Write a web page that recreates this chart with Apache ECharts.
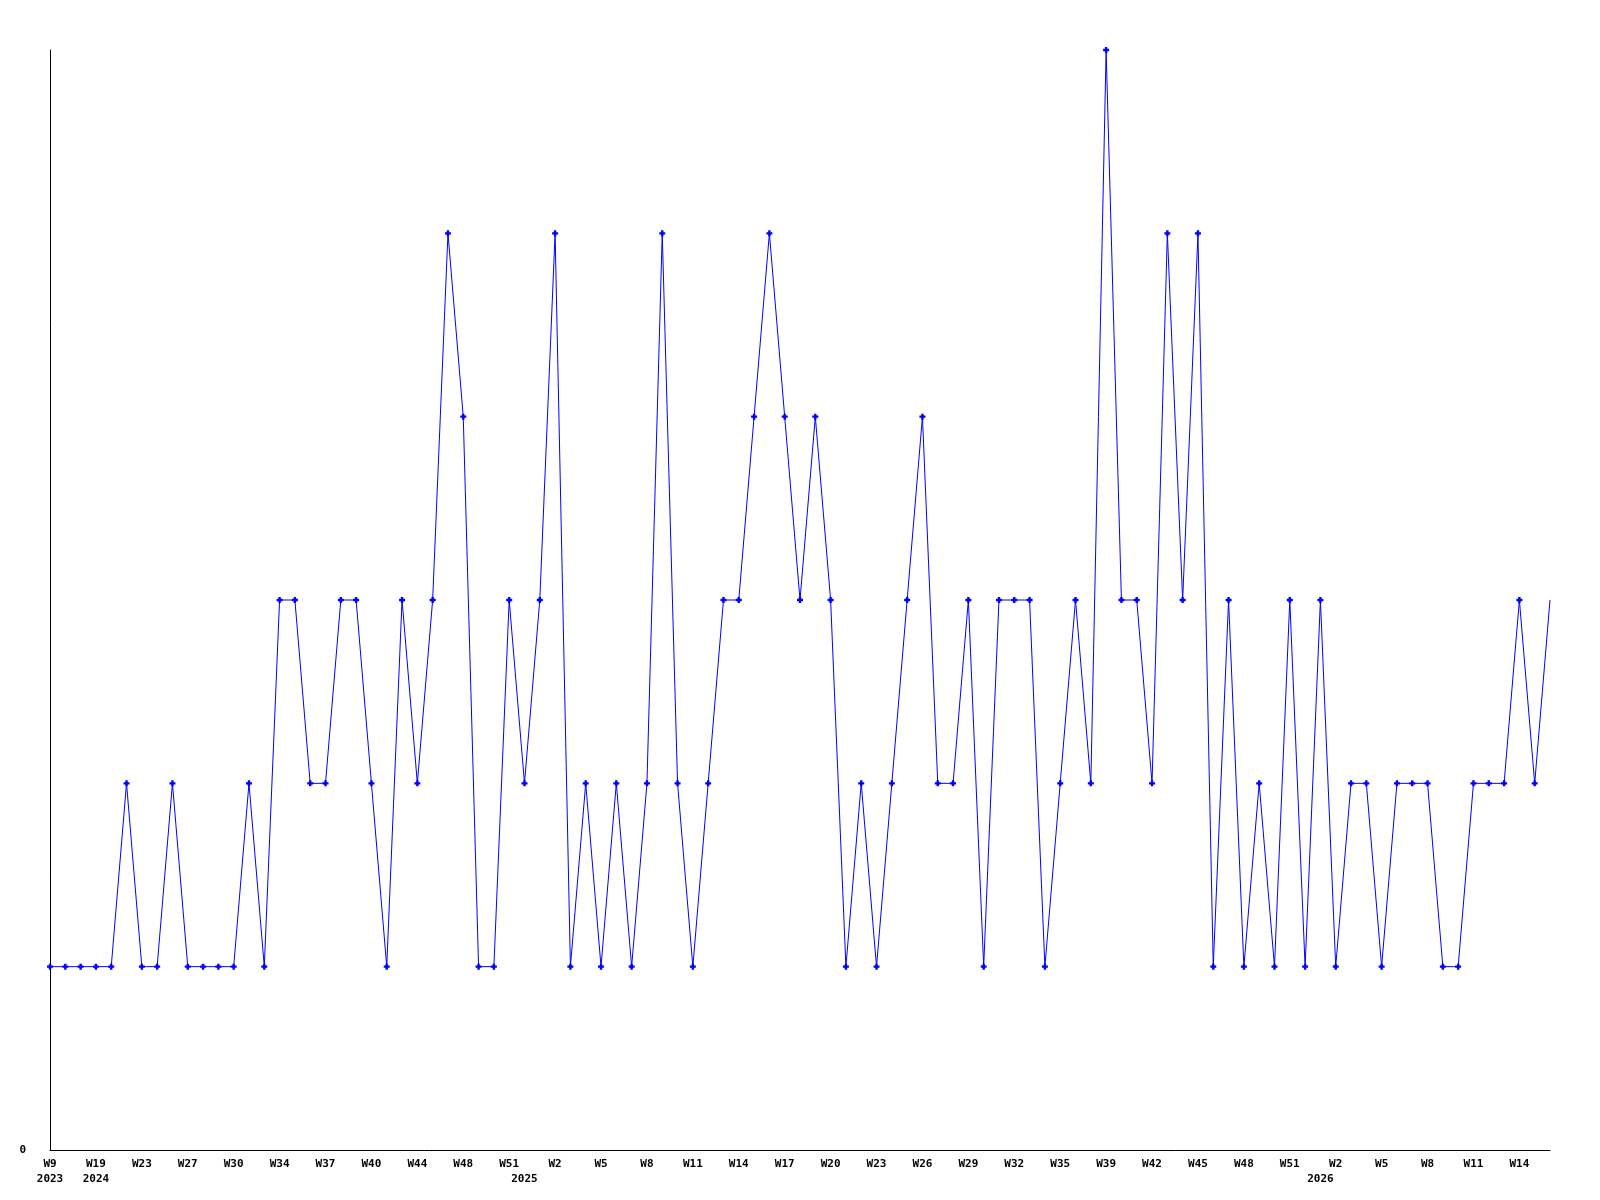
<!DOCTYPE html>
<html>
<head>
<meta charset="utf-8">
<script src="https://cdn.jsdelivr.net/npm/echarts@6/dist/echarts.min.js"></script>
<style>
  html, body { margin: 0; padding: 0; background: #fff; }
  #main { width: 1600px; height: 1200px; }
</style>
</head>
<body>
<div id="main"></div>
<script>
// week of each point, in order
const weeks = [
  'W9', 'W11', 'W17', 'W19', 'W20', 'W22', 'W23', 'W24', 'W26', 'W27',
  'W28', 'W29', 'W30', 'W31', 'W33', 'W34', 'W35', 'W36', 'W37', 'W38',
  'W39', 'W40', 'W42', 'W43', 'W44', 'W45', 'W47', 'W48', 'W49', 'W50',
  'W51', 'W52', 'W1', 'W2', 'W3', 'W4', 'W5', 'W6', 'W7', 'W8',
  'W9', 'W10', 'W11', 'W12', 'W13', 'W14', 'W15', 'W16', 'W17', 'W18',
  'W19', 'W20', 'W21', 'W22', 'W23', 'W24', 'W25', 'W26', 'W27', 'W28',
  'W29', 'W30', 'W31', 'W32', 'W33', 'W34', 'W35', 'W37', 'W38', 'W39',
  'W40', 'W41', 'W42', 'W43', 'W44', 'W45', 'W46', 'W47', 'W48', 'W49',
  'W50', 'W51', 'W52', 'W1', 'W2', 'W3', 'W4', 'W5', 'W6', 'W7',
  'W8', 'W9', 'W10', 'W11', 'W12', 'W13', 'W14', 'W15', 'W16'
];

// year label under the point where the year starts
const yearStarts = { 0: '2023', 3: '2024', 31: '2025', 83: '2026' };

const counts = [
  1, 1, 1, 1, 1, 2, 1, 1, 2, 1, 1, 1, 1, 2, 1, 3, 3, 2, 2, 3, 3, 2, 1, 3, 2, 3, 5,
  4, 1, 1, 3, 2, 3, 5, 1, 2, 1, 2, 1, 2, 5, 2, 1, 2, 3, 3, 4, 5, 4, 3, 4, 3, 1, 2,
  1, 2, 3, 4, 2, 2, 3, 1, 3, 3, 3, 1, 2, 3, 2, 6, 3, 3, 2, 5, 3, 5, 1, 3, 1, 2, 1,
  3, 1, 3, 1, 2, 2, 1, 2, 2, 2, 1, 1, 2, 2, 2, 3, 2, 3
];

function yearOf(i) {
  let y = '';
  for (const k in yearStarts) {
    if (Number(k) <= i) y = yearStarts[k];
  }
  return y;
}

const categories = weeks.map((w, i) => yearOf(i) + '-' + w);

const font = {
  fontFamily: 'DejaVu Sans Mono',
  fontWeight: 'bold',
  fontSize: 11,
  color: '#000'
};

const chart = echarts.init(document.getElementById('main'));

chart.setOption({
  animation: false,
  backgroundColor: '#fff',
  grid: { left: 50, right: 50, top: 50, bottom: 50, containLabel: false },
  xAxis: [
    {
      type: 'category',
      data: categories,
      boundaryGap: false,
      axisLine: { show: true, lineStyle: { color: '#000', width: 1 } },
      axisTick: { show: false },
      splitLine: { show: false },
      axisLabel: Object.assign({
        interval: 2,
        margin: 7,
        lineHeight: 14,
        formatter: v => v.split('-')[1]
      }, font)
    },
    {
      type: 'category',
      data: categories,
      position: 'bottom',
      offset: 15,
      boundaryGap: false,
      axisLine: { show: false },
      axisTick: { show: false },
      splitLine: { show: false },
      axisLabel: Object.assign({
        interval: 0,
        margin: 7,
        lineHeight: 14,
        formatter: (v, i) => yearStarts[i] || ''
      }, font)
    }
  ],
  yAxis: {
    type: 'value',
    min: 0,
    max: 6,
    interval: 6,
    axisLine: { show: true, lineStyle: { color: '#000', width: 1 } },
    axisTick: { show: false },
    splitLine: { show: false },
    axisLabel: Object.assign({ margin: 24, showMaxLabel: false }, font)
  },
  series: [
    {
      type: 'line',
      data: counts.map((v, i) => i === counts.length - 1 ? { value: v, symbol: 'none' } : v),
      // small plus marker
      symbol: 'path://M1.5,0H3.5V1.5H5V3.5H3.5V5H1.5V3.5H0V1.5H1.5Z',
      symbolSize: 6,
      showAllSymbol: true,
      lineStyle: { color: '#0000ff', width: 1 },
      itemStyle: { color: '#0000ff' }
    }
  ]
});
</script>
</body>
</html>
